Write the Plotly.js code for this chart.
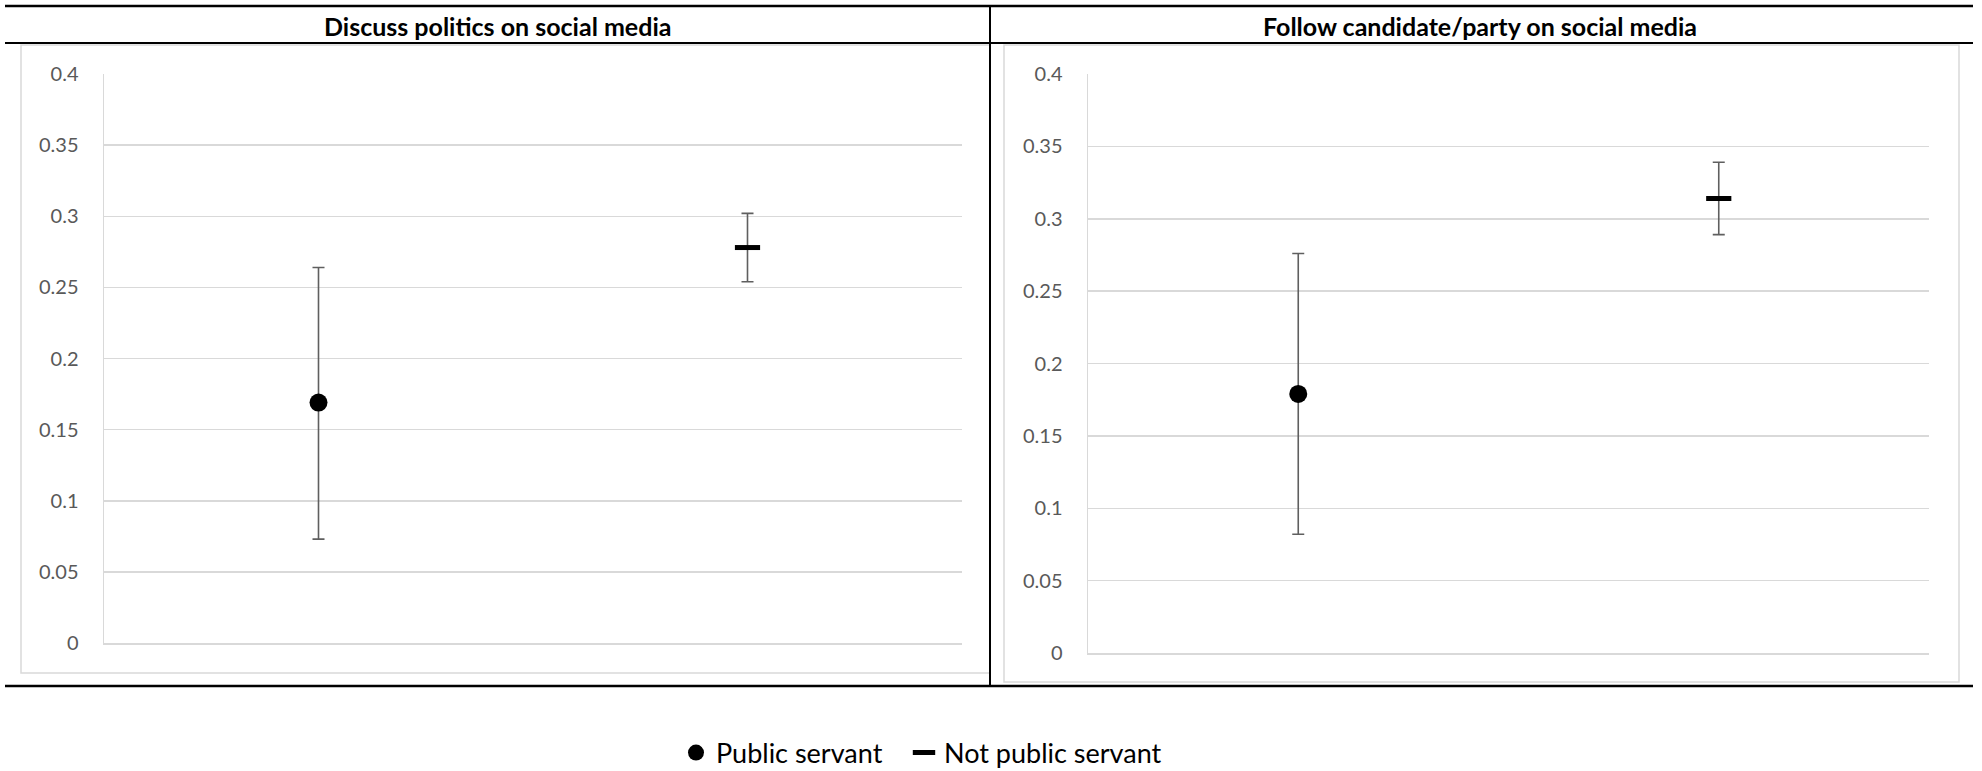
<!DOCTYPE html>
<html>
<head>
<meta charset="utf-8">
<script src="https://cdn.plot.ly/plotly-3.0.1.min.js"></script>
<style>
  html, body { margin: 0; padding: 0; background: #ffffff; }
  #chart { width: 1982px; height: 771px; }
</style>
</head>
<body>
<div id="chart"></div>
<script>
// ---- Data ----
const panelTitles = ["Discuss politics on social media", "Follow candidate/party on social media"];
const groups = ["Public servant", "Not public servant"];

// Discuss politics on social media
const discussEstimate = [0.169, 0.278];
const discussLower    = [0.073, 0.254];
const discussUpper    = [0.264, 0.302];

// Follow candidate/party on social media
const followEstimate = [0.179, 0.314];
const followLower    = [0.082, 0.289];
const followUpper    = [0.276, 0.339];

const yTickVals  = [0, 0.05, 0.1, 0.15, 0.2, 0.25, 0.3, 0.35, 0.4];
const yTickTexts = ["0", "0.05", "0.1", "0.15", "0.2", "0.25", "0.3", "0.35", "0.4"];

// ---- Layout helpers ----
const W = 1982, H = 771;
const px = v => v / W;
const py = v => 1 - v / H;

const errColor = "#5f5f5f";
const markerStyles = [
  { symbol: "circle", size: 18, color: "#000000" },
  { symbol: "line-ew", size: 18, color: "#000000", line: { color: "#000000", width: 5 } }
];
const legendIds = ["legend", "legend2"];

function makeTraces(est, lo, hi, xa, ya, showLegend) {
  return groups.map((g, i) => ({
    type: "scatter",
    mode: "markers",
    name: g,
    legendgroup: g,
    legend: legendIds[i],
    showlegend: showLegend,
    x: [g],
    y: [est[i]],
    xaxis: xa,
    yaxis: ya,
    marker: markerStyles[i],
    error_y: {
      type: "data",
      symmetric: false,
      array: [hi[i] - est[i]],
      arrayminus: [est[i] - lo[i]],
      color: errColor,
      thickness: 1.6,
      width: 6
    },
    hoverinfo: "x+y"
  }));
}

const data = [
  ...makeTraces(discussEstimate, discussLower, discussUpper, "x", "y", true),
  ...makeTraces(followEstimate, followLower, followUpper, "x2", "y2", false)
];

const FONT = "Lato, 'Open Sans', sans-serif";
const tickFont = { family: FONT, size: 20, color: "#595959" };

function yAxis(domain, anchor) {
  return {
    domain: domain,
    anchor: anchor,
    range: [0, 0.4],
    tickvals: yTickVals,
    ticktext: yTickTexts,
    showgrid: true,
    gridcolor: "#d9d9d9",
    gridwidth: 1.5,
    zeroline: false,
    showline: true,
    linecolor: "#d9d9d9",
    linewidth: 1.5,
    ticks: "",
    ticklabelstandoff: 20,
    tickfont: tickFont,
    automargin: false,
    fixedrange: true
  };
}
function xAxis(domain, anchor) {
  return {
    domain: domain,
    anchor: anchor,
    type: "category",
    categoryorder: "array",
    categoryarray: groups,
    range: [-0.5, 1.5],
    showgrid: false,
    zeroline: false,
    showline: true,
    linecolor: "#d9d9d9",
    linewidth: 1.5,
    showticklabels: false,
    ticks: "",
    automargin: false,
    fixedrange: true
  };
}

const blackLine = (x0, y0, x1, y1, w) => ({
  type: "line", xref: "paper", yref: "paper",
  x0: px(x0), y0: py(y0), x1: px(x1), y1: py(y1),
  line: { color: "#000000", width: w }, layer: "above"
});
const frame = (x0, y0, x1, y1) => ({
  type: "rect", xref: "paper", yref: "paper",
  x0: px(x0), y0: py(y1), x1: px(x1), y1: py(y0),
  line: { color: "#d9d9d9", width: 1.5 }, fillcolor: "rgba(0,0,0,0)", layer: "below"
});
const legendBox = (xLeft) => ({
  orientation: "h",
  x: px(xLeft),
  xanchor: "left",
  y: py(753),
  yanchor: "middle",
  bgcolor: "rgba(0,0,0,0)",
  borderwidth: 0,
  font: { family: FONT, size: 27, color: "#000000" },
  itemsizing: "trace"
});

const layout = {
  width: W,
  height: H,
  margin: { l: 0, r: 0, t: 0, b: 0, pad: 0, autoexpand: false },
  paper_bgcolor: "#ffffff",
  plot_bgcolor: "rgba(0,0,0,0)",
  font: { family: FONT, color: "#000000" },
  xaxis:  xAxis([px(104), px(962)], "y"),
  yaxis:  yAxis([py(643), py(74)], "x"),
  xaxis2: xAxis([px(1088), px(1929)], "y2"),
  yaxis2: yAxis([py(653), py(74)], "x2"),
  showlegend: true,
  legend: legendBox(676),
  legend2: legendBox(904),
  annotations: [
    {
      text: "<b>" + panelTitles[0] + "</b>",
      xref: "paper", yref: "paper",
      x: px(497), y: py(26), xanchor: "center", yanchor: "middle",
      showarrow: false,
      font: { family: FONT, size: 25, color: "#000000" }
    },
    {
      text: "<b>" + panelTitles[1] + "</b>",
      xref: "paper", yref: "paper",
      x: px(1480), y: py(26), xanchor: "center", yanchor: "middle",
      showarrow: false,
      font: { family: FONT, size: 25, color: "#000000" }
    }
  ],
  shapes: [
    frame(21, 45, 990, 673),
    frame(1004, 45, 1959, 682),
    blackLine(5, 6, 1973, 6, 2.5),
    blackLine(5, 43, 1973, 43, 2),
    blackLine(5, 686, 1973, 686, 2.5),
    blackLine(990, 6, 990, 686, 2)
  ]
};

Plotly.newPlot("chart", data, layout, { displayModeBar: false, staticPlot: true });
</script>
</body>
</html>
